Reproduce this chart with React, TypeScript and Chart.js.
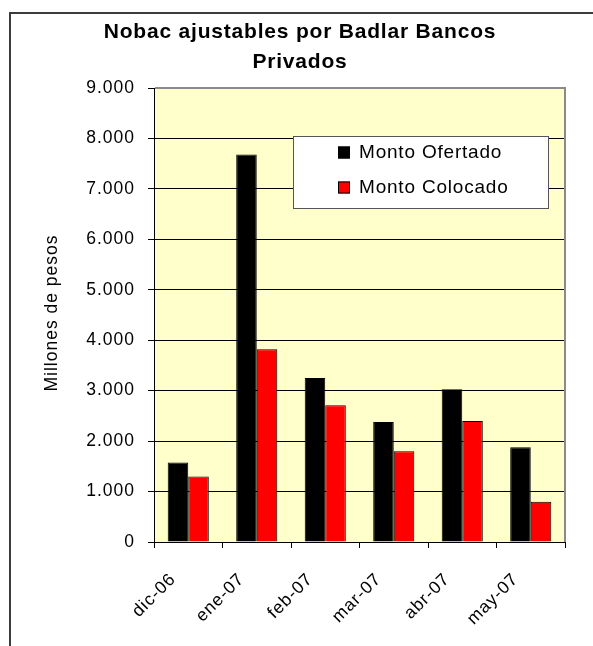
import { useEffect, useRef } from 'react';
import { Chart, registerables } from 'chart.js';

Chart.register(...registerables);

const categories = ['dic-06', 'ene-07', 'feb-07', 'mar-07', 'abr-07', 'may-07'];
const montoOfertado = [1575, 7680, 3250, 2380, 3030, 1880];
const montoColocado = [1300, 3820, 2710, 1800, 2400, 800];
const seriesNames = ['Monto Ofertado', 'Monto Colocado'];
const titleLines = ['Nobac ajustables por Badlar Bancos', 'Privados'];
const yAxisTitle = 'Millones de pesos';
const Y_MIN = 0;
const Y_MAX = 9000;
const Y_STEP = 1000;

const FONT = '"Liberation Sans", Arial, Helvetica, sans-serif';
const W = 593;
const H = 646;

function fmt(v: number): string {
  return String(v).replace(/\B(?=(\d{3})+(?!\d))/g, '.');
}

const decorPlugin = {
  id: 'decor',
  beforeUpdate(chart: any) {
    chart.ctx.letterSpacing = '1px';
  },
  beforeDraw(chart: any) {
    const { ctx, chartArea: a } = chart;
    ctx.save();
    ctx.fillStyle = '#ffffff';
    ctx.fillRect(0, 0, chart.width, chart.height);
    ctx.fillStyle = '#FFFFCC';
    ctx.fillRect(a.left, a.top, a.right - a.left, a.bottom - a.top);
    ctx.strokeStyle = '#3c3c3c';
    ctx.lineWidth = 2;
    ctx.beginPath();
    ctx.moveTo(10, chart.height);
    ctx.lineTo(10, 13);
    ctx.lineTo(chart.width, 13);
    ctx.stroke();
    ctx.restore();
    chart.ctx.letterSpacing = '1px';
  },
  afterDraw(chart: any) {
    const { ctx, chartArea: a } = chart;
    ctx.save();
    // gray top & right plot border
    ctx.strokeStyle = '#8a8a8a';
    ctx.lineWidth = 2;
    ctx.beginPath();
    ctx.moveTo(a.left + 1, a.top);
    ctx.lineTo(a.right, a.top);
    ctx.lineTo(a.right, a.bottom);
    ctx.stroke();

    // title
    ctx.fillStyle = '#000';
    ctx.font = `bold 21px ${FONT}`;
    ctx.letterSpacing = '0.8px';
    ctx.textAlign = 'center';
    ctx.textBaseline = 'middle';
    ctx.fillText(titleLines[0], 300, 32);
    ctx.fillText(titleLines[1], 300, 62);

    // y axis title
    ctx.save();
    ctx.font = `17.5px ${FONT}`;
    ctx.letterSpacing = '1px';
    ctx.translate(52, 313);
    ctx.rotate(-Math.PI / 2);
    ctx.textAlign = 'center';
    ctx.textBaseline = 'middle';
    ctx.fillText(yAxisTitle, 0, 0);
    ctx.restore();

    // legend
    const lx = 293, ly = 136, lw = 255, lh = 72;
    ctx.fillStyle = '#ffffff';
    ctx.fillRect(lx, ly, lw, lh);
    ctx.strokeStyle = '#555555';
    ctx.lineWidth = 1;
    ctx.strokeRect(lx + 0.5, ly + 0.5, lw, lh);
    const rows = [152.5, 187.5];
    chart.data.datasets.forEach((ds: any, i: number) => {
      const cy = rows[i];
      ctx.fillStyle = ds.backgroundColor;
      ctx.fillRect(338, cy - 6, 12, 12);
      ctx.strokeStyle = '#000';
      ctx.lineWidth = 1;
      ctx.strokeRect(338.5, cy - 5.5, 11, 11);
      ctx.fillStyle = '#000';
      ctx.font = `19px ${FONT}`;
      ctx.letterSpacing = '0.8px';
      ctx.textAlign = 'left';
      ctx.textBaseline = 'middle';
      ctx.fillText(ds.label, 359, cy);
    });
    ctx.restore();
    chart.ctx.letterSpacing = '1px';
  },
};

export default function App() {
  const ref = useRef<HTMLCanvasElement | null>(null);
  useEffect(() => {
    if (!ref.current) return;
    const chart = new Chart(ref.current, {
      type: 'bar',
      data: {
        labels: categories,
        datasets: [
          {
            label: seriesNames[0],
            data: montoOfertado,
            backgroundColor: '#000000',
            borderColor: '#000000',
            borderWidth: 1,
            barPercentage: 1,
            categoryPercentage: 0.6,
          },
          {
            label: seriesNames[1],
            data: montoColocado,
            backgroundColor: '#FF0000',
            borderColor: '#000000',
            borderWidth: 1,
            barPercentage: 1,
            categoryPercentage: 0.6,
          },
        ],
      },
      options: {
        responsive: false,
        animation: false,
        devicePixelRatio: 1,
        layout: { padding: { top: 88, right: 28, left: 0, bottom: 0 } },
        plugins: {
          legend: { display: false },
          title: { display: false },
          tooltip: { enabled: false },
        },
        scales: {
          x: {
            offset: true,
            grid: {
              offset: true,
              drawOnChartArea: false,
              drawTicks: true,
              tickLength: 6,
              color: '#000',
            },
            border: { color: '#000', width: 1 },
            ticks: {
              color: '#000',
              font: { family: FONT, size: 17.5 },
              minRotation: 45,
              maxRotation: 45,
              padding: 21,
              labelOffset: -15,
              autoSkip: false,
            },
            afterFit(scale: any) {
              scale.height = 104;
            },
          },
          y: {
            min: Y_MIN,
            max: Y_MAX,
            grid: {
              color: '#000',
              drawTicks: true,
              tickLength: 6,
            },
            border: { color: '#000', width: 1 },
            ticks: {
              stepSize: Y_STEP,
              color: '#000',
              font: { family: FONT, size: 17.5 },
              padding: 13,
              callback: (v: any) => fmt(Number(v)),
            },
            afterFit(scale: any) {
              scale.width = 154;
            },
          },
        },
      },
      plugins: [decorPlugin],
    });
    return () => chart.destroy();
  }, []);
  return (
    <div style={{ position: 'absolute', left: 0, top: 0, width: W, height: H }}>
      <canvas ref={ref} width={W} height={H} style={{ display: 'block', width: W, height: H }} />
    </div>
  );
}
